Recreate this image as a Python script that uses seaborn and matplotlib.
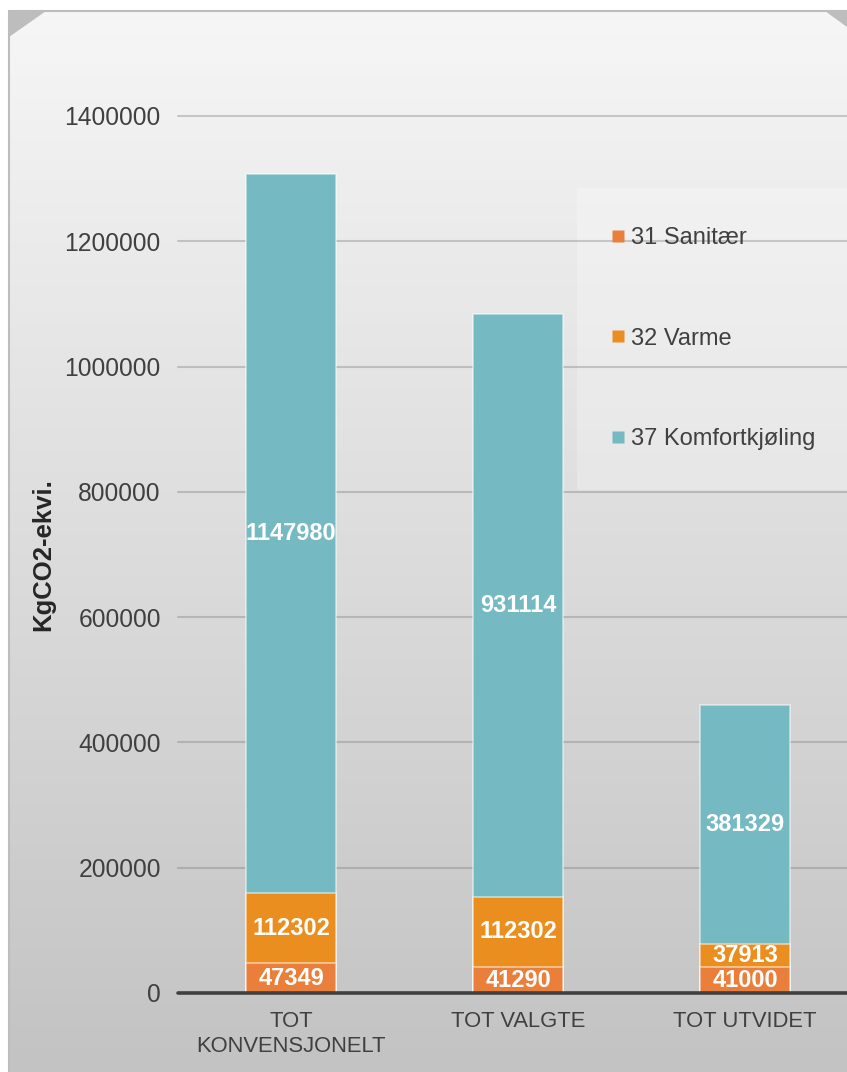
import matplotlib
matplotlib.use("Agg")
import matplotlib.pyplot as plt
import numpy as np
import pandas as pd
import seaborn as sns
from matplotlib.colors import LinearSegmentedColormap
from matplotlib.lines import Line2D
from matplotlib.patches import Polygon, Rectangle

# data
categories = ["TOT\nKONVENSJONELT", "TOT VALGTE", "TOT UTVIDET"]
series_names = ["31 Sanitær", "32 Varme", "37 Komfortkjøling"]
sanitaer = [47349, 41290, 41000]
varme = [112302, 112302, 37913]
komfort = [1147980, 931114, 381329]
y_ticks = [0, 200000, 400000, 600000, 800000, 1000000, 1200000, 1400000]
colors = ["#E97F3A", "#EB8E20", "#75B9C2"]

df = pd.DataFrame({"kat": categories, "san": sanitaer, "var": varme, "kom": komfort})
df["lower"] = df["san"] + df["var"]
df["total"] = df["lower"] + df["kom"]

sns.set_theme(style="white")
plt.rcParams["font.family"] = ["Liberation Sans", "DejaVu Sans"]

W, H = 847, 1072
fig = plt.figure(figsize=(W / 100, H / 100), dpi=100)

# bakgrunnspanel (pikselkoordinater)
bg = fig.add_axes([0, 0, 1, 1], zorder=0)
grad = np.linspace(0, 1, 256).reshape(-1, 1)
cmap = LinearSegmentedColormap.from_list("bg", ["#f6f6f6", "#c3c3c3"])
bg.imshow(grad, cmap=cmap, extent=(9, W + 5, H, 11), aspect="auto")
bg.plot([9, 9], [11, H], color="#bdbdbd", lw=1.5)
bg.plot([9, W], [11, 11], color="#bdbdbd", lw=1.5)
bg.add_patch(Polygon([(9, 11), (46, 11), (9, 37)], closed=True, fc="#bdbdbd", ec="none"))
bg.add_patch(Polygon([(825, 11), (W, 11), (W, 27)], closed=True, fc="#bdbdbd", ec="none"))
bg.add_patch(Rectangle((577, 188), 300, 302, fc="white", alpha=0.25, ec="none"))
bg.set_xlim(0, W)
bg.set_ylim(H, 0)
bg.axis("off")

ax = fig.add_axes([177.5 / W, 79 / H, 681 / W, 877 / H], zorder=1)
ax.patch.set_alpha(0)

edge = (1, 1, 1, 0.55)
sns.barplot(data=df, x="kat", y="total", color=colors[2], width=0.4, saturation=1,
            errorbar=None, edgecolor=edge, linewidth=1.2, ax=ax)
sns.barplot(data=df, x="kat", y="lower", color=colors[1], width=0.4, saturation=1,
            errorbar=None, edgecolor=edge, linewidth=1.2, ax=ax)
sns.barplot(data=df, x="kat", y="san", color=colors[0], width=0.4, saturation=1,
            errorbar=None, edgecolor=edge, linewidth=1.2, ax=ax)

for i, row in df.iterrows():
    for y, v in [(row["san"] / 2, row["san"]),
                 (row["san"] + row["var"] / 2, row["var"]),
                 (row["lower"] + row["kom"] / 2, row["kom"])]:
        ax.text(i, y, f"{v}", ha="center", va="center", color="white",
                fontsize=17, fontweight="bold", zorder=5)

ax.set_xlim(-0.5, 2.5)
ax.set_ylim(0, 1400000)
ax.set_yticks(y_ticks)
ax.set_yticklabels([str(t) for t in y_ticks])
ax.yaxis.grid(True, color="#7f7f7f", alpha=0.38, lw=1.5)
for gl in ax.get_ygridlines():
    gl.set_clip_on(False)
ax.set_axisbelow(True)
ax.axhline(0, color="#404040", lw=2.6, zorder=4, clip_on=False)
sns.despine(ax=ax, left=True, bottom=True)
ax.tick_params(axis="y", length=0, pad=12, labelsize=17.7, labelcolor="#404040")
ax.tick_params(axis="x", length=0, pad=13, labelsize=15.8, labelcolor="#404040")
for lbl in ax.get_xticklabels():
    lbl.set_linespacing(1.25)
ax.set_xlabel("")
ax.set_ylabel("")

fig.text(43 / W, 1 - 554.5 / H, "KgCO2-ekvi.", rotation=90, ha="center", va="center",
         fontsize=18.5, fontweight="bold", color="#262626")

handles = [Line2D([0], [0], marker="s", ls="", ms=8.5, mfc=c, mec="none") for c in colors]
fig.legend(handles, series_names, loc="upper left", bbox_to_anchor=(611 / W, 1 - 227 / H),
           frameon=False, fontsize=17, labelcolor="#404040", handlelength=0.6,
           handletextpad=0.25, labelspacing=3.33, borderpad=0, borderaxespad=0)

fig.savefig("out.png", dpi=100)
